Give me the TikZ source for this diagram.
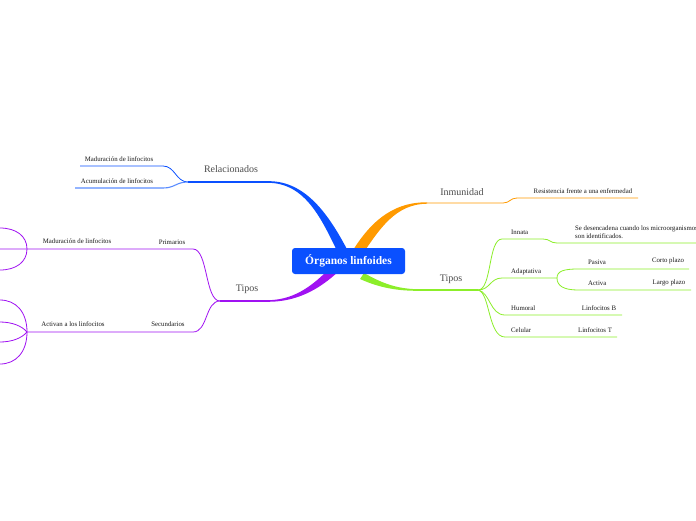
\documentclass[tikz,border=0pt]{standalone}
\usepackage{fontspec}
\setmainfont{Liberation Serif}
\usetikzlibrary{positioning}

\definecolor{mmblue}{HTML}{0A50FF}
\definecolor{mmlblue}{HTML}{5A8CFF}
\definecolor{mmorange}{HTML}{FF9A00}
\definecolor{mmgreen}{HTML}{8CEE2A}
\definecolor{mmpurple}{HTML}{A012F2}

\tikzset{
  small/.style={font=\fontsize{6.8}{8}\selectfont, inner sep=0pt, text=black!90},
  topic/.style={font=\fontsize{10}{12}\selectfont, inner sep=0pt, text=black!70},
  sub/.style={line width=0.8pt},
}

\begin{document}
\begin{tikzpicture}[x=1pt,y=-1pt]
  \useasboundingbox (0,0) rectangle (696,520);
  \fill[white] (0,0) rectangle (696,520);

  % Relacionados
  \coordinate (relA) at (188,182);
  \coordinate (relB) at (268,182);
  \coordinate (relM1) at (163,166);
  \coordinate (relM2) at (80,166);
  \coordinate (relC1) at (163,188);
  \coordinate (relC2) at (75,188);
  \fill[mmblue] (268,181.2) .. controls (308,180.5) and (332,220) .. (350,255)
    -- (339,255) .. controls (322,220) and (306,183) .. (268,182.8) -- cycle;
  \draw[mmblue, line width=1.3pt] (relA) -- (relB);
  \draw[mmblue, sub] (relA) .. controls (176,182) and (175,166) .. (relM1) -- (relM2);
  \draw[mmlblue, line width=1.1pt] (relA) .. controls (176,182) and (175,188) .. (relC1) -- (relC2);
  \node[topic] (rel) at (231,169) {Relacionados};
  \node[small] (relmad) at (119,159) {Maduración de linfocitos};
  \node[small] (relacu) at (117,181) {Acumulación de linfocitos};

  % Inmunidad
  \coordinate (inmA) at (427,203);
  \coordinate (inmB) at (503,203);
  \coordinate (resA) at (517,198);
  \coordinate (resB) at (638,198);
  \fill[mmorange] (427,202.3) .. controls (390,202) and (368,225) .. (350,255)
    -- (362,255) .. controls (380,228) and (396,204) .. (427,203.7) -- cycle;
  \draw[mmorange, sub] (inmA) -- (inmB) .. controls (510,203) and (510,198) .. (resA) -- (resB);
  \node[topic] (inm) at (462,192) {Inmunidad};
  \node[small] (res) at (583,191) {Resistencia frente a una enfermedad};

  % Tipos (derecha)
  \coordinate (tdA) at (420,290);
  \coordinate (tdB) at (478,290);
  \fill[mmgreen] (364,273) .. controls (385,285) and (400,289.2) .. (420,289.2)
    -- (420,290.8) .. controls (398,291) and (380,288) .. (360,279) -- cycle;
  \draw[mmgreen, line width=1.1pt] (tdA) -- (tdB);
  \coordinate (innA) at (502,239);
  \coordinate (innB) at (543,239);
  \coordinate (innC) at (557,243);
  \coordinate (innD) at (696,243);
  \draw[mmgreen, sub] (tdB) .. controls (492,290) and (488,239) .. (innA) -- (innB)
    .. controls (550,239) and (550,243) .. (innC) -- (innD);
  \coordinate (adaA) at (502,278);
  \coordinate (adaB) at (557,278);
  \coordinate (pasA) at (578,269);
  \coordinate (pasB) at (689,269);
  \coordinate (actA) at (578,290);
  \coordinate (actB) at (691,290);
  \draw[mmgreen, sub] (tdB) .. controls (490,290) and (490,278) .. (adaA) -- (adaB);
  \draw[mmgreen, sub] (adaB) .. controls (557,271) and (564,269) .. (pasA) -- (pasB);
  \draw[mmgreen, sub] (adaB) .. controls (557,286) and (564,290) .. (actA) -- (actB);
  \coordinate (humA) at (505,315);
  \coordinate (humB) at (622,315);
  \coordinate (celA) at (505,337);
  \coordinate (celB) at (617,337);
  \draw[mmgreen, sub] (tdB) .. controls (490,292) and (490,315) .. (humA) -- (humB);
  \draw[mmgreen, sub] (tdB) .. controls (490,292) and (488,337) .. (celA) -- (celB);
  \node[topic] (tipd) at (451,279) {Tipos};
  \node[small, anchor=west] (innata) at (511,232) {Innata};
  \node[small, anchor=west, align=left] (desenc) at (575,232)
    {Se desencadena cuando los microorganismos\\son identificados.};
  \node[small, anchor=west] (adapt) at (511,272) {Adaptativa};
  \node[small, anchor=west] (pasiva) at (588,262) {Pasiva};
  \node[small] (corto) at (668,261) {Corto plazo};
  \node[small, anchor=west] (activa) at (588,283) {Activa};
  \node[small] (largo) at (669,283) {Largo plazo};
  \node[small, anchor=west] (humoral) at (511,308) {Humoral};
  \node[small] (linfb) at (599,308) {Linfocitos B};
  \node[small, anchor=west] (celular) at (511,330) {Celular};
  \node[small] (linft) at (595,330) {Linfocitos T};

  % Tipos (izquierda)
  \coordinate (tiA) at (267,301);
  \coordinate (tiB) at (220,301);
  \fill[mmpurple] (267,301.8) .. controls (295,302) and (318,291) .. (340,270)
    -- (328,270) .. controls (310,288) and (292,300.2) .. (267,300.2) -- cycle;
  \draw[mmpurple, line width=1.2pt] (tiA) -- (tiB);
  \coordinate (priA) at (193,249);
  \coordinate (priB) at (27,249);
  \coordinate (secA) at (193,332);
  \coordinate (secB) at (27,332);
  \draw[mmpurple, sub] (tiB) .. controls (205,301) and (208,249) .. (priA) -- (priB) -- (0,249);
  \draw[mmpurple, sub] (tiB) .. controls (205,301) and (208,332) .. (secA) -- (secB);
  \draw[mmpurple, sub] (priB) .. controls (27,236) and (16,228) .. (0,228);
  \draw[mmpurple, sub] (priB) .. controls (27,262) and (16,270) .. (0,270);
  \draw[mmpurple, sub] (secB) .. controls (27,312) and (16,300) .. (0,300);
  \draw[mmpurple, sub] (secB) .. controls (22,326) and (12,322) .. (0,322);
  \draw[mmpurple, sub] (secB) .. controls (22,338) and (12,342) .. (0,342);
  \draw[mmpurple, sub] (secB) .. controls (27,352) and (16,364) .. (0,364);
  \node[topic] (tipi) at (247,289) {Tipos};
  \node[small] (prim) at (172,242) {Primarios};
  \node[small] (madur) at (77,241) {Maduración de linfocitos};
  \node[small] (secun) at (168,324) {Secundarios};
  \node[small] (activan) at (73,324) {Activan a los linfocitos};

  % Central topic
  \node[fill=mmblue, rounded corners=3pt, minimum width=113pt, minimum height=26pt,
    text=white, font=\fontsize{11.5}{13}\selectfont\bfseries] (main) at (348.5,261)
    {Órganos linfoides};
\end{tikzpicture}
\end{document}
